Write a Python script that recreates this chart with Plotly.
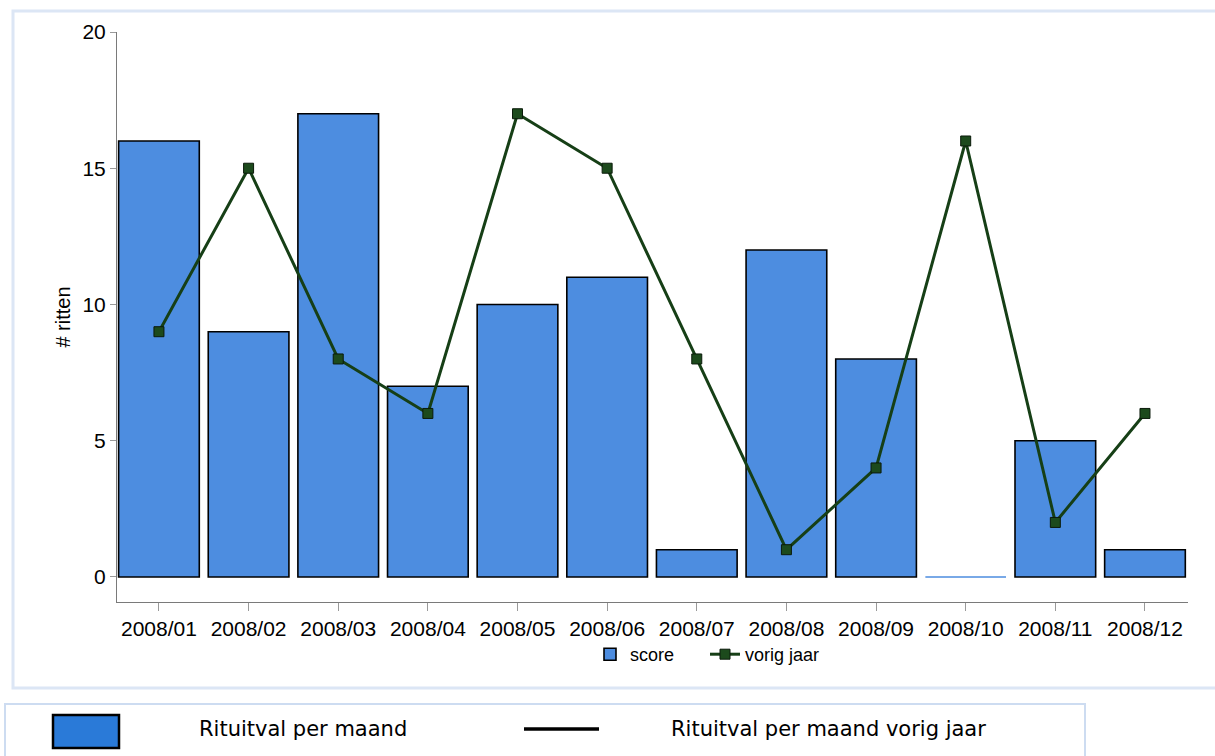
import plotly.graph_objects as go

# Monthly trip counts for 2008 and the same month one year earlier
months = ["2008/01", "2008/02", "2008/03", "2008/04", "2008/05", "2008/06",
          "2008/07", "2008/08", "2008/09", "2008/10", "2008/11", "2008/12"]
score = [16, 9, 17, 7, 10, 11, 1, 12, 8, 0, 5, 1]
vorig_jaar = [9, 15, 8, 6, 17, 15, 8, 1, 4, 16, 2, 6]

W, H = 1215, 756
ML, MR, MT, MB = 117, 27, 32, 154
PW, PH = W - ML - MR, H - MT - MB


def px(x):
    return (x - ML) / PW


def py(y):
    return 1 - (y - MT) / PH


BAR_BLUE = "#4d8de0"
LINE_GREEN = "#163f16"

# zero-height bars show only a thin blue line, others get a black outline
outline = [BAR_BLUE if v == 0 else "black" for v in score]

fig = go.Figure()
fig.add_trace(go.Bar(
    x=months, y=score, name="score", width=0.9,
    marker=dict(color=BAR_BLUE, line=dict(color=outline, width=1.6)),
))
fig.add_trace(go.Scatter(
    x=months, y=vorig_jaar, name="vorig jaar", mode="lines+markers",
    line=dict(color=LINE_GREEN, width=3),
    marker=dict(symbol="square", size=10, color="#1c4a1c",
                line=dict(color="#0a1a0a", width=1)),
))

shapes = [
    # outer chart panel
    dict(type="rect", xref="paper", yref="paper",
         x0=px(13), x1=px(1222), y0=py(11), y1=py(688),
         line=dict(color="#dce6f5", width=3), layer="below"),
    # lower key panel
    dict(type="rect", xref="paper", yref="paper",
         x0=px(5), x1=px(1085), y0=py(704), y1=py(762),
         line=dict(color="#cddcf1", width=2), layer="below"),
    # key: bar swatch
    dict(type="rect", xref="paper", yref="paper",
         x0=px(53), x1=px(119), y0=py(715), y1=py(748),
         fillcolor="#2a7ad8", line=dict(color="black", width=2.5)),
    # key: line swatch
    dict(type="line", xref="paper", yref="paper",
         x0=px(524), x1=px(599), y0=py(729), y1=py(729),
         line=dict(color="black", width=3.5)),
]

key_font = dict(family="DejaVu Sans", size=21, color="black")
annotations = [
    dict(text="Rituitval per maand", xref="paper", yref="paper",
         x=px(197), y=py(729), xanchor="left", yanchor="middle",
         showarrow=False, font=key_font),
    dict(text="Rituitval per maand vorig jaar", xref="paper", yref="paper",
         x=px(669), y=py(729), xanchor="left", yanchor="middle",
         showarrow=False, font=key_font),
]

fig.update_layout(
    width=W, height=H,
    margin=dict(l=ML, r=MR, t=MT, b=MB, pad=0),
    paper_bgcolor="white", plot_bgcolor="white",
    font=dict(family="Liberation Sans, Arial", color="black"),
    bargap=0.1,
    showlegend=True,
    legend=dict(orientation="h", x=px(590), y=py(636), xanchor="left",
                yanchor="top", font=dict(size=18, family="Liberation Sans, Arial"),
                bgcolor="rgba(0,0,0,0)", itemwidth=30, tracegroupgap=0,
                entrywidth=70, entrywidthmode="pixels"),
    shapes=shapes,
    annotations=annotations,
    xaxis=dict(
        type="category", range=[-0.468, 11.48],
        showline=True, linecolor="#7a7a7a", linewidth=1,
        ticks="outside", ticklen=8, tickcolor="#9a9a9a", tickwidth=1,
        tickfont=dict(size=21, family="Liberation Sans, Arial"),
        showgrid=False, zeroline=False,
    ),
    yaxis=dict(
        range=[-0.92, 20], tickvals=[0, 5, 10, 15, 20],
        showline=True, linecolor="#7a7a7a", linewidth=1,
        ticks="outside", ticklen=6, tickcolor="#9a9a9a", tickwidth=1,
        tickfont=dict(size=21, family="Liberation Sans, Arial"),
        showgrid=False, zeroline=False,
        title=dict(text="# ritten", font=dict(size=20, family="Liberation Sans, Arial"),
                   standoff=6),
    ),
)

fig.write_html("out.html")
